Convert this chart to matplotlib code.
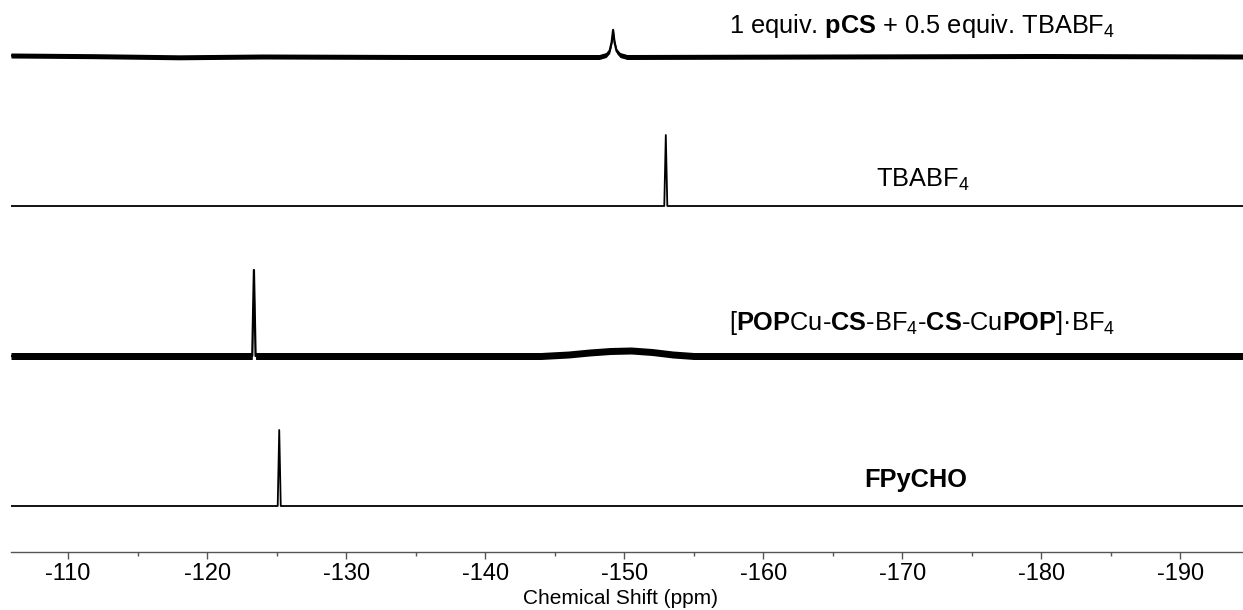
import numpy as np
import matplotlib
matplotlib.use('Agg')
import matplotlib.pyplot as plt
from matplotlib.ticker import MultipleLocator

plt.rcParams['font.family'] = ['Liberation Sans', 'DejaVu Sans']
plt.rcParams['mathtext.fontset'] = 'custom'
plt.rcParams['mathtext.rm'] = 'Liberation Sans'
plt.rcParams['mathtext.it'] = 'Liberation Sans:italic'
plt.rcParams['mathtext.bf'] = 'Liberation Sans:bold'

# 19F NMR spectra, chemical shift (ppm) vs intensity (arb. units)
ppm_fpycho = [-105.9, -125.08, -125.19, -125.30, -194.5]
int_fpycho = [0, 0, 76, 0, 0]

ppm_complex = [-105.9, -123.25, -123.37, -123.49, -144.0, -146.0, -147.5,
               -149.0, -150.5, -152.0, -153.5, -155.0, -194.5]
int_complex = [0, 0, 86, 0, 0, 1.5, 3.5, 5, 5.5, 4, 1.5, 0, 0]

ppm_tbabf4 = [-105.9, -152.88, -152.99, -153.10, -194.5]
int_tbabf4 = [0, 0, 71, 0, 0]

ppm_mix = [-105.9, -112.0, -118.0, -124.0, -135.0, -148.2, -148.7, -148.95,
           -149.1, -149.2, -149.3, -149.45, -149.7, -150.2, -165.0, -180.0, -194.5]
int_mix = [1.5, 0.8, -0.3, 0.5, 0, 0, 2, 6, 15, 27, 15, 6, 2, 0, 0.5, 1, 0.5]

labels = ['FPyCHO',
          r'[$\mathbf{POP}$Cu-$\mathbf{CS}$-BF$_4$-$\mathbf{CS}$-Cu$\mathbf{POP}$]·BF$_4$',
          r'TBABF$_4$',
          r'1 equiv. $\mathbf{pCS}$ + 0.5 equiv. TBABF$_4$']

# stacking layout
offsets = [46, 196, 346, 495]
noise = [0, 3.5, 0, 2.5]
label_pos = [(-171.0, 65, 'center'), (-185.3, 222, 'right'),
             (-171.5, 365, 'center'), (-185.3, 519, 'right')]

fig = plt.figure(figsize=(12.43, 6.10), dpi=100)
ax = fig.add_axes([11 / 1243, 58 / 610, 1232 / 1243, 552 / 610])

spectra = [(ppm_fpycho, int_fpycho), (ppm_complex, int_complex),
           (ppm_tbabf4, int_tbabf4), (ppm_mix, int_mix)]
for (x, y), off, n, (lx, ly, ha), lab in zip(spectra, offsets, noise, label_pos, labels):
    x = np.array(x)
    y = np.array(y) + off
    ax.plot(x, y, color='black', lw=1.3 if n == 0 else 1.6, zorder=3)
    if n > 0:
        ax.fill_between(x, y - n, y + n, color='black', lw=0, zorder=2)
    ax.text(lx, ly, lab, fontsize=18.3, ha=ha, va='baseline',
            fontweight='bold' if lab == 'FPyCHO' else 'normal')

ax.set_xlim(-105.9, -194.5)
ax.set_ylim(0, 552)
ax.set_yticks([])
for s in ['left', 'right', 'top']:
    ax.spines[s].set_visible(False)
ax.spines['bottom'].set_color('#555555')
ax.spines['bottom'].set_linewidth(1.0)
ax.xaxis.set_major_locator(MultipleLocator(10))
ax.xaxis.set_minor_locator(MultipleLocator(5))
ax.tick_params(axis='x', which='major', length=5, width=1, color='#555555',
               labelsize=17, pad=3)
ax.tick_params(axis='x', which='minor', length=3, width=1, color='#555555')
ax.set_xticks(np.arange(-110, -191, -10))
ax.set_xticklabels([str(v) for v in range(-110, -191, -10)])
ax.set_xlabel('Chemical Shift (ppm)', fontsize=15, va='center')
ax.xaxis.set_label_coords(0.495, -46 / 552)

fig.savefig('out.png', dpi=100)
